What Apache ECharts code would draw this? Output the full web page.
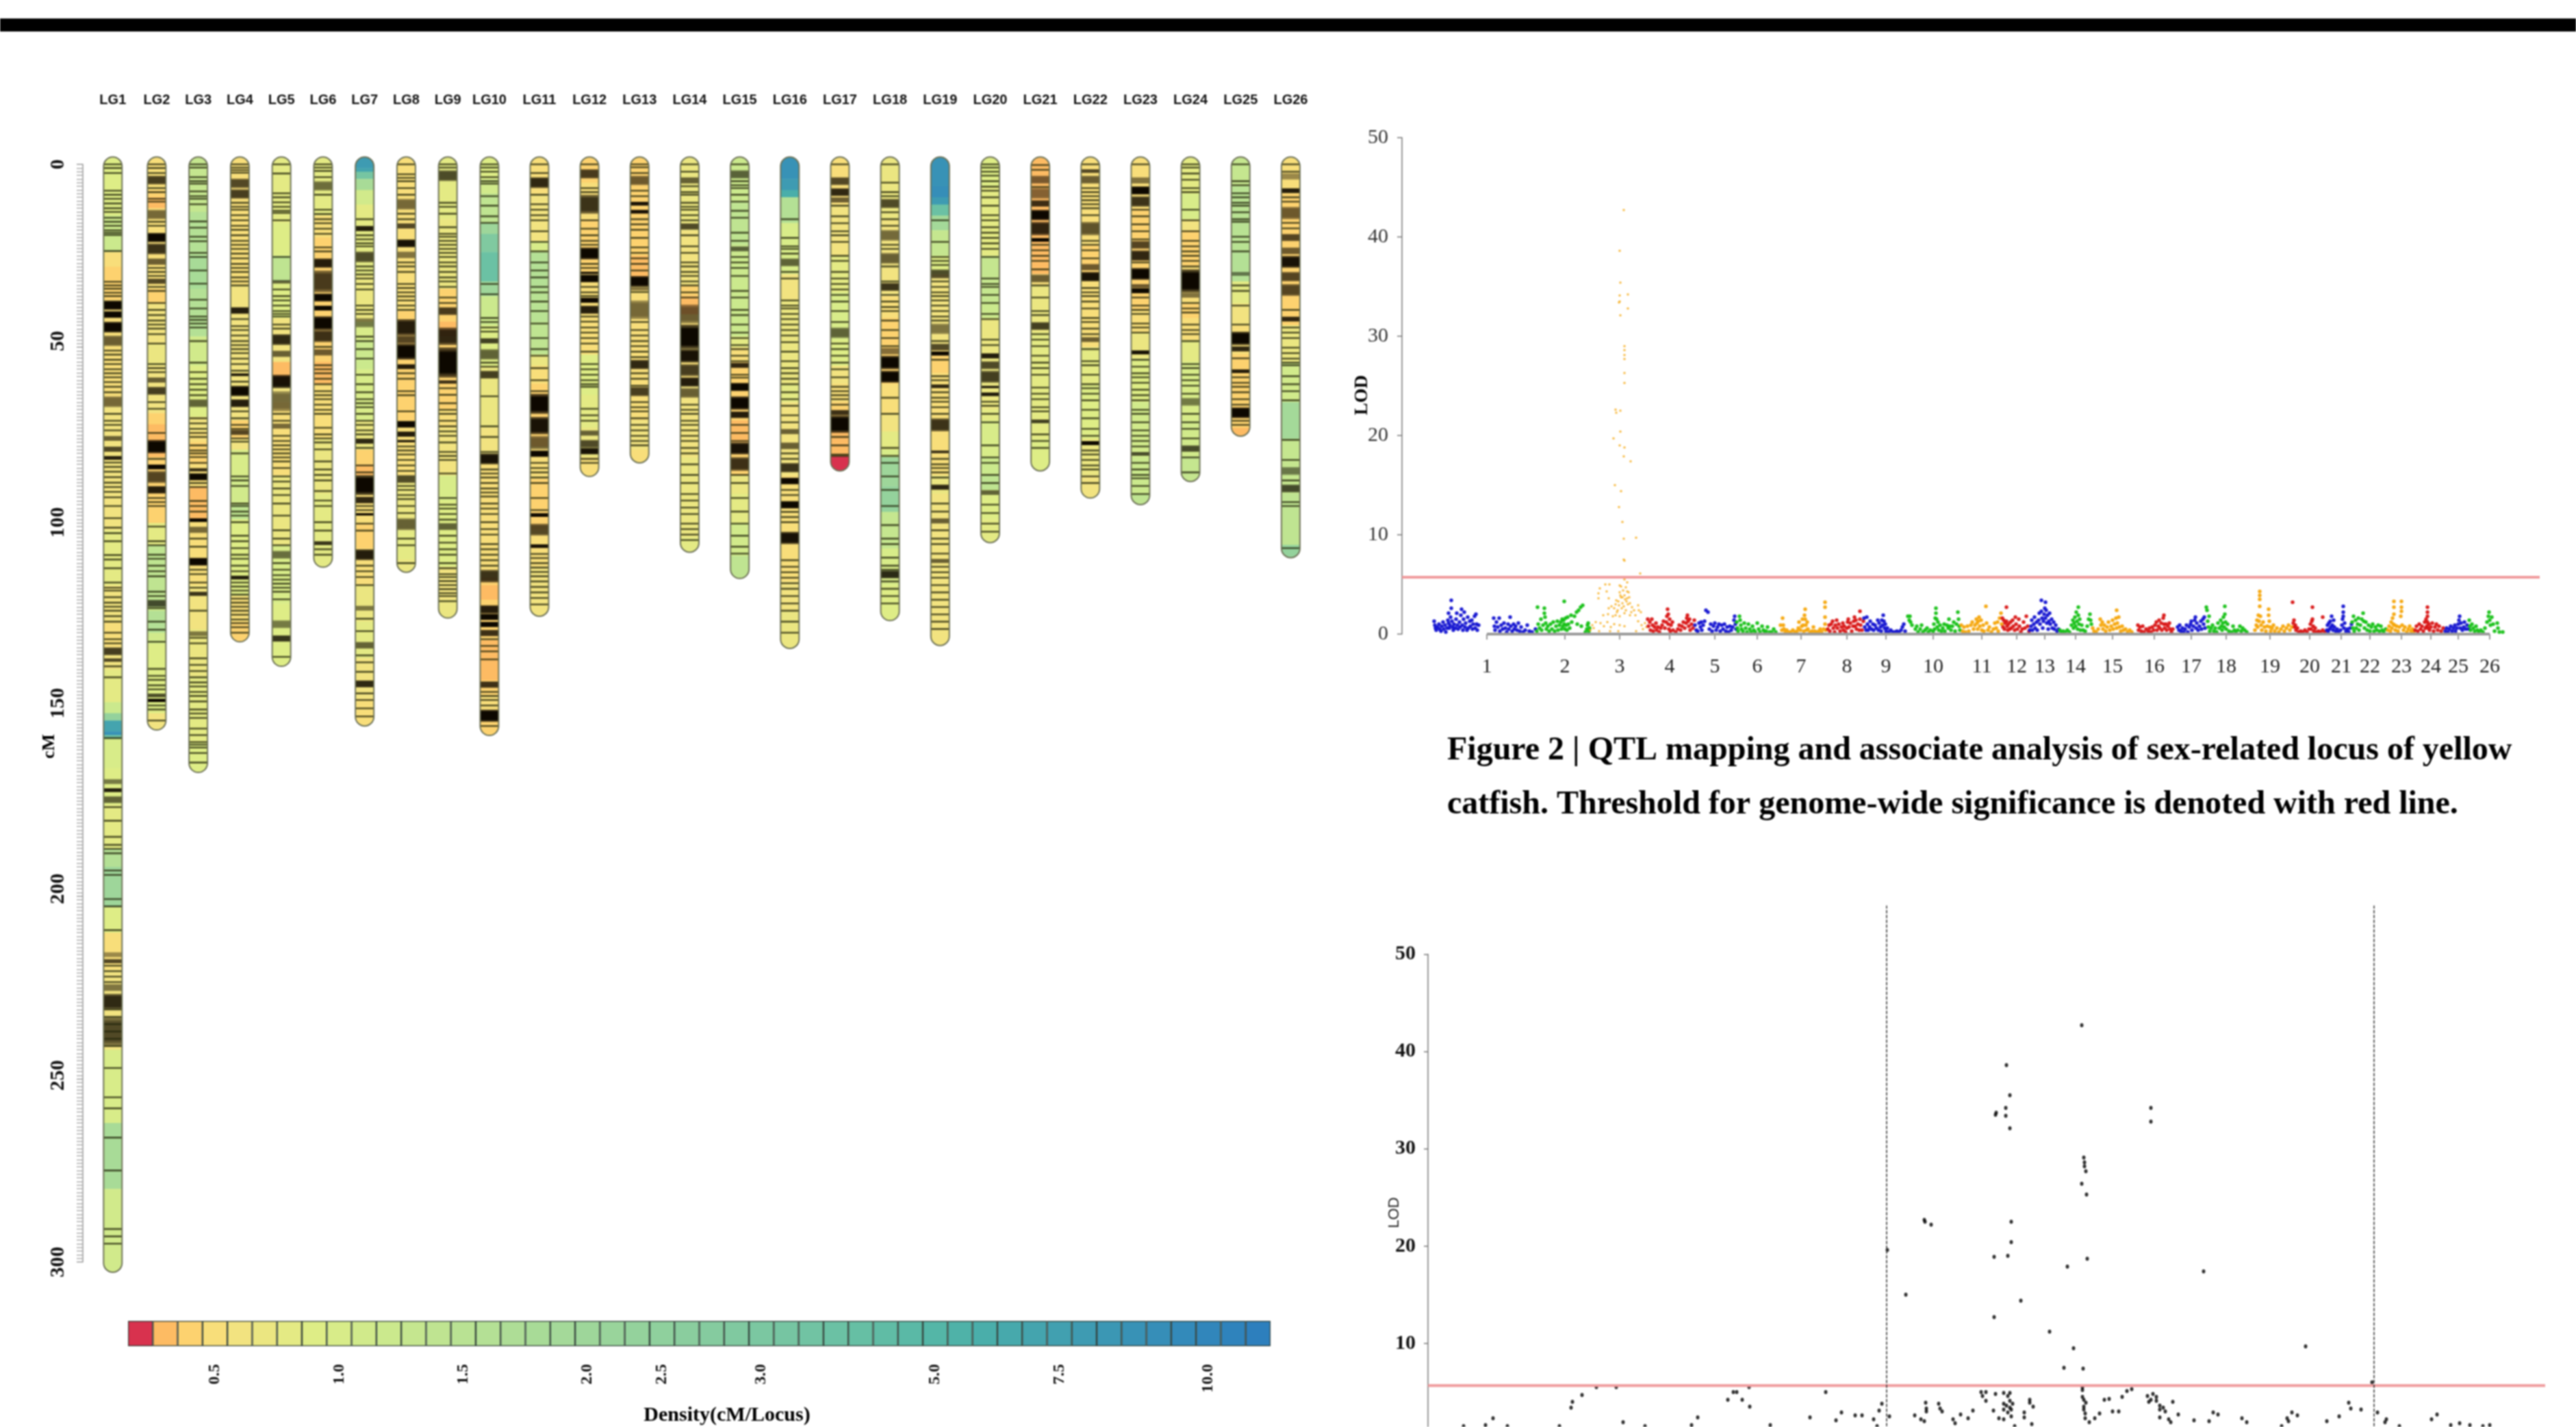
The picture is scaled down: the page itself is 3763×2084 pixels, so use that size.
<!DOCTYPE html>
<html><head><meta charset="utf-8">
<script src="https://cdn.jsdelivr.net/npm/echarts@6/dist/echarts.min.js"></script>
<style>html,body{margin:0;padding:0;background:#fff}#c{width:3763px;height:2084px;filter:blur(.8px)}</style></head>
<body><div id="c"></div>
<script>
const lgNames=['LG1','LG2','LG3','LG4','LG5','LG6','LG7','LG8','LG9','LG10','LG11','LG12','LG13','LG14','LG15','LG16','LG17','LG18','LG19','LG20','LG21','LG22','LG23','LG24','LG25','LG26'];
const lgLengths=[302.8,154.6,166.2,130.5,137.2,110.1,153.5,111.5,124,156.1,123.5,85.3,81.6,106,113.2,132.3,83.8,124.7,131.5,103.4,83.8,91.2,93,86.7,74.3,107.5];
const palette=['#d8324e','#fdbb63','#fdd26f','#f8de7a','#f2e380','#ebe681','#e4ea84','#deed86','#d8ec89','#d1ea8b','#cbe98d','#c5e68f','#bfe491','#b9e293','#b4e095','#aedd96','#a8db97','#a4d999','#9ed69a','#99d49b','#94d29c','#8fd09d','#8acd9e','#85cb9f','#80c9a0','#7bc7a1','#76c5a2','#71c3a3','#6bc1a4','#66bfa4','#60bca5','#5ab9a6','#54b6a7','#4fb2a8','#4aaeaa','#47a9ac','#44a4ae','#41a0b0','#3e9bb2','#3b97b4','#3892b6','#368eb8','#338aba','#3186bb','#2f83bc','#2d7fbd'];
const densityLabels=['','','','0.5','','','','','1.0','','','','','1.5','','','','','2.0','','','2.5','','','','3.0','','','','','','','5.0','','','','','7.5','','','','','','10.0','',''];
const rulerLabelAt=[0,48.3,97.9,147.3,198,249,300];

const bg1=[[-3,7],[14,10],[24,3],[28,2],[37,3],[66,4],[100,6],[115,4],[125,3],[132,4],[138,6],[147,10],[150,20],[152,36],[155,40],[156,27],[157,8],[165,7],[175,6],[187,14],[192,18],[203,7],[210,3],[220,4],[242,8],[262,16],[280,9]];
const bg2=[[-3,3],[7,2],[9,1],[12,3],[34,2],[38,4],[49,5],[55,4],[68,2],[71,1],[80,2],[95,2],[98,6],[104,12],[121,10],[122,14],[128,9],[131,7],[150,4]];
const bg3=[[-3,11],[13,14],[25,16],[34,14],[47,9],[55,7],[69,4],[73,3],[76,2],[82,3],[88,1],[97,3],[115,4],[127,5],[140,6],[158,7]];
const bg4=[[-3,3],[33,4],[70,2],[75,4],[78,8],[85,9],[93,12],[97,7],[118,3],[125,2]];
const bg5=[[-3,6],[16,7],[25,12],[32,7],[42,4],[54,1],[60,4],[65,3],[85,5],[104,8],[120,7]];
const bg6=[[-3,6],[14,3],[20,2],[54,1],[60,3],[75,5],[90,6]];
const bg7=[[-3,38],[1,36],[2,26],[4,16],[7,9],[11,6],[30,5],[43,8],[48,10],[56,8],[70,5],[78,2],[82,1],[85,3],[98,2],[105,3],[115,5],[125,6],[135,4],[146,3]];
const bg8=[[-3,3],[40,2],[70,3],[85,5],[100,6],[108,5]];
const bg9=[[-3,6],[15,5],[34,2],[43,1],[47,2],[67,3],[72,4],[85,8],[92,7],[110,4],[119,5]];
const bg10=[[-3,7],[4,9],[8,12],[16,18],[19,24],[24,28],[32,18],[36,10],[44,7],[55,5],[72,4],[80,3],[100,3],[113,2],[115,1],[119,2],[130,1],[141,2],[145,3],[152,2]];
const bg11=[[-3,3],[8,4],[21,8],[24,14],[34,13],[43,12],[52,5],[55,3],[60,2],[77,3],[86,2],[100,3],[110,4]];
const bg12=[[-3,2],[5,3],[15,2],[30,3],[52,7],[63,6],[72,5],[80,3]];
const bg13=[[-3,2],[25,1],[33,3],[70,4],[78,3]];
const bg14=[[-3,5],[18,4],[33,2],[36,1],[41,3],[60,4],[80,5],[102,6]];
const bg15=[[-3,10],[10,12],[22,10],[47,6],[50,3],[54,2],[70,1],[76,2],[85,5],[90,6],[98,9],[107,12]];
const bg16=[[-3,40],[4,38],[7,34],[9,14],[16,8],[30,4],[37,5],[60,6],[65,4],[85,3],[114,4],[122,5]];
const bg17=[[-3,3],[11,4],[25,6],[35,8],[48,7],[55,4],[60,3],[65,2],[73,1],[79.8,0]];
const bg18=[[-3,5],[15,4],[36,3],[42,2],[60,3],[68,4],[73,6],[78,8],[80,18],[88,20],[95,11],[105,8],[115,7]];
const bg19=[[-3,40],[6,41],[9,38],[11,28],[14,17],[18,11],[25,7],[30,4],[50,3],[52,2],[57,3],[85,5],[90,4]];
const bg20=[[-3,7],[6,6],[25,11],[38,10],[42,5],[67,6],[70,8],[80,10],[85,12],[89,7],[97,6]];
const bg21=[[-3,1],[30,3],[33,5],[46,6],[75,7]];
const bg22=[[-3,3],[22,2],[30,3],[50,6],[60,7],[75,5],[85,4]];
const bg23=[[-3,3],[12,2],[40,3],[46,5],[53,7],[65,9],[80,10],[90,12]];
const bg24=[[-3,6],[8,8],[15,4],[18,2],[28,3],[38,2],[42,3],[48,6],[54,8],[70,9],[80,11]];
const bg25=[[-3,11],[6,13],[24,14],[32,6],[38,4],[44,3],[52,2],[72,1]];
const bg26=[[-3,3],[8,2],[44,5],[54,9],[65,17],[75,11],[90,12],[104,20]];

const lines1=[0,1,2.4,7.2,8.3,9.4,10.7,12,13,14.6,15.7,16.8,18,18.7,19.3,23.7,32.1,33.1,34,35.1,36,50.9,52,53.4,54.6,56,57.1,58.2,59.5,60.8,62.3,68.2,70.1,71.2,72.7,81.5,82.7,84,85.5,87,88.2,89.5,91,93.4,96.7,99.3,100.8,103,106.8,108,110.4,114.3,115.7,116.5,118.3,119.8,120.9,122,123.5,125,128,129.8,130.9,137.2,140.2,156.8,175.7,179.4,183.8,186,187.1,188.3,193,194.2,200.8,202.8,209.3,219,220.5,222,223.5,231,233,235,237,239,241,247,255,258,266,275,291,293,295];
const dark1=[[37.2,39.8,1],[40.1,42,1],[43,46,1],[46.8,49.7,.6],[63.4,66.4,.55],[74.2,75.6,.6],[77.1,78.6,.7],[79.7,80.8,.9],[132,134.2,.75],[135,136,.7],[168,169.4,.5],[170.5,171.6,.9],[172.7,174.6,.6],[215.3,216.7,.4],[217.2,218.4,.7],[224,226,.5],[226.7,231,.85],[233,241,.7]];
const lines2=[0,1,2.4,6.5,7.6,9.4,10.2,15.7,16.8,28.3,29.4,30.5,33.5,34.6,37.9,39.8,41.2,42.7,43.8,44.9,46.4,49,54.6,55.7,56.8,65,66.8,73.4,80.5,91.2,92.3,93.4,99,103,104.1,106.7,107.8,109.7,111.2,112.6,116.8,118,121.3,125,127.2,130.5,137.9,139.8,140.9,142.4,143.5,147.9,149,152];
const dark2=[[3.1,5.5,.75],[12.4,15,.55],[18.7,21.3,1],[21.6,24.6,.8],[25.7,27.5,.6],[31.2,32.7,.7],[58.2,59.7,.6],[60.8,63,.75],[75.3,79,1],[82,83.4,1],[83.8,87.1,.7],[87.9,90,.9],[119,121,.7],[144.6,145.7,.7],[146,147,1]];
const lines3=[0,.9,3.5,4.6,5.3,7.4,8.7,9.4,10.9,15.6,17.3,19.8,21,24.2,25.3,29,32.6,37,39.4,41.6,42.5,43.5,44.6,48.3,54.2,56.8,58.6,60.1,61.6,63.1,69.4,70.8,72.3,73.4,74.5,76.8,78.2,79,80,81.6,87.1,88.2,92,93.4,94.9,102.3,104.5,110.8,112,114.3,115.7,122,129.4,130.9,135,136.8,138.5,140.2,141.6,142.7,144.2,145.3,146.8,149,150.1,151.3,154.2,156,157.9,158.6,159.4,160.9,163.5];
const dark3=[[64.2,66.4,.6],[83,84,.8],[84.4,86.4,1],[96.7,97.8,1],[99,100.8,.55],[107.5,109.7,1],[116.8,118,.8],[127.6,129,.5]];
const lines4=[0,.9,1.6,2.3,10.5,11.6,12.4,13.9,15.3,16.8,17.9,19.4,20.9,22,23.1,24.4,25.7,27.2,28.3,29.4,30.9,32,33.1,42.3,44.2,45.3,46.8,48.3,49.4,50.5,51.6,53.1,54.6,56.4,59.4,67.5,69.4,71.2,72.3,74.9,75.8,79,85.3,86.4,87.9,92.7,93.4,94.9,96,97.8,101.5,103,104.9,106.7,107.8,109.7,111.2,114.3,115.4,116.5,117.6,118.7,119.8,120.9,122,123.1,124.4,125.4,126.5,128];
const dark4=[[3.9,6.5,.7],[6.8,9.4,.75],[39,40.9,.9],[57.1,57.9,.9],[60.5,63.4,1],[64.2,66.4,.9],[72.5,74,.7],[112.4,113.5,.9]];
const lines5=[0,2.5,7.9,9,10.4,11.6,12.7,13.3,15.3,25.3,34.2,36,37.2,38.6,40.1,40.9,41.6,43.8,44.9,68.2,70.1,74.2,75.6,76.8,77.9,79,80.1,81.2,83,85.3,86.7,88.6,90.4,92.7,96,100,102.3,104.1,109,110.8,112.3,113.5,114.6,115.7,116.8,118.9,134.6];
const dark5=[[31.6,32.6,.6],[46.4,49.4,.85],[50.9,52.7,.6],[57.5,61.2,.95],[62,67.5,.55],[70.8,72.3,.55],[105.6,107.8,.55],[124.6,126.8,.5],[128.7,130.5,.8]];
const lines6=[0,.9,1.8,3.5,8.3,12.4,13.6,15,16.1,17.6,19,22.7,23.8,49.9,54.9,56,57.1,58.6,60.1,62,63.1,64.2,65.7,67.1,68.2,72,73.8,74.9,76,77.9,81.2,83.4,84.9,86.4,89.3,91.9,93.4,97.8,100.1,105.2,106.7];
const dark6=[[4.6,7.2,.55],[25.7,28.3,.9],[29,35,.75],[35.3,37.5,1],[38.6,40,1],[41.5,45.3,1],[45.3,48.6,.8],[50.5,52.3,.6],[103,104.1,.8]];
const lines7=[15,19.4,20.5,21.6,22.4,27.9,29,30.1,31.2,32.7,34.2,38.6,39.8,40.9,47.1,48.3,50.5,53.1,57.5,60.1,62.3,64.2,65.3,66.4,68.2,70.1,71.2,72.7,73.8,77.5,82.3,84.2,93.4,94.5,98.2,100.1,109.7,111.2,112.8,115,124.2,127.6,134.2,136.1,138.7,144.6,146.4,148.7,150.9];
const dark7=[[16.8,18.3,.9],[23.8,26.8,.7],[42,44.6,.5],[74.9,76.4,.85],[84.9,90.4,1],[90.8,92.7,.85],[95.3,96,1],[105.2,108.2,.9],[120.6,122,.5],[130.5,132.4,.6],[141,143,.85]];
const lines8=[0,2.7,3.7,4.6,6.5,8.3,13.5,15,26.8,27.9,29.4,32.7,33.8,35,36.1,37.2,38.6,39.8,57.1,58.6,62,63.1,67.5,77.1,78.2,79.3,80.8,82.3,83.8,87.9,89,90.4,91.5,93.4,95.3,102.3,104.1,109];
const dark8=[[9.4,12.4,.55],[16.1,17.6,.7],[20.5,22.7,.95],[23.8,25.7,.5],[42.3,46.8,.9],[46.8,49,.7],[49,53.4,1],[54.6,56,.9],[70.1,72,1],[73,74.5,.9],[75.3,76,.9],[84.9,87.1,.7],[96.7,100,.6]];
const lines9=[0,.9,10.5,11.6,13.5,17.2,19,19.8,20.9,22,23.1,24.2,25.3,26.8,27.9,29.4,30.9,32,33.5,36.4,37.9,61.2,63,65.3,67.1,68.2,70.1,71.6,73,74.2,76,78.6,79.7,80.8,84.5,91.2,93,94.1,95.6,97.1,101.5,103.4,105.2,106.7,109,110.4,112,112.8,113.9,115,116.1,117.2,118,119.4];
const dark9=[[1.6,4.6,.7],[39,41.2,.75],[44.6,49.4,.85],[50,58.3,1],[59,60,.8],[98,100,.6]];
const lines10=[0,.9,2,3.5,4.6,5.3,8.7,11.3,14.2,16,32.7,35.5,42,43.1,44.6,45.7,54.2,55.3,63.4,71.6,74.5,78.6,83.4,84.5,85.6,87.1,88.6,89.7,90.8,92.7,94.1,95.6,97.8,99.7,101.2,103.8,105.2,106.7,108.2,109.7,129.8,131.6,133.1,135.3,144.2,145.3,146.4,147.9,153.5];
const dark10=[[47.5,49,.75],[50.5,53.4,.6],[56.4,58.6,.75],[79,82,.95],[110.8,114.3,.8],[120.5,122.8,.9],[122.8,124.6,1],[125,126.5,1],[127.2,129,.8],[141.3,143.1,.8],[149,152.4,1]];
const lines11=[0,2.4,8.3,10.9,12.4,13.9,15.3,18.3,21.2,23.8,26.8,29,30.9,33.5,35,37.5,40.1,43.5,47.5,50.5,52.3,55.7,59,62,81.6,83,84.2,85.6,87.1,91.2,94.5,106.5,107.6,109,110.2,111.4,112.6,114,115.5,117,118.5,120.3];
const dark11=[[3.5,6.5,.85],[62.7,68.2,1],[69,73.8,.95],[74.2,77.9,.6],[78.2,80,1],[95.3,96.4,1],[98.2,101.5,.7],[103.8,104.9,.95]];
const lines12=[0,6.5,7.6,15.3,17.6,19.4,20.9,22,27.2,28.3,33.5,35,36,41.6,43,44.6,46,47.5,49,51.2,54.6,56,57.5,59,60.1,60.8,66.8,68.6,70.1,80.5,81.6];
const dark12=[[1.3,3.9,.75],[8.3,13.5,.8],[22.7,26,1],[29.3,30,.9],[30.1,32.3,1],[36.4,37.9,1],[38.6,40.9,.9],[72.7,74.2,.6],[75.3,77.5,.7],[77.5,79.3,.95]];
const lines13=[0,.8,2.4,7.2,8.7,15,16.4,17.9,20.1,22.7,24.2,25.7,27.2,29,34.9,43.1,45.3,46.8,48.3,49.7,51.2,52.7,57.1,58.6,60.5,65,66.4,67.5,69.4,71.2,72.7,74.2,75.6,76.8];
const dark13=[[3.1,5.7,.6],[10.2,11.3,.95],[12.4,13.5,.95],[30.5,33.5,1],[33.5,34.5,.5],[37.2,42.3,.55],[53.4,56,.85],[60.8,63.4,.75]];
const lines14=[0,2,6,7.6,8.3,10.5,11.6,12.4,13.9,15.3,19.4,22.4,24.2,26.8,27.9,29.4,30.5,32,33.1,35,36.4,65.7,67.1,68.2,70.1,71.2,72.7,74.2,75.6,77.5,79,82,84.9,87.1,90.1,91.9,93.8,95.6,98.2,99.7,101.2,102.7];
const dark14=[[3.5,5.3,.6],[16.1,17.9,.7],[38.3,43.5,.6],[43.8,50.5,1],[50.5,54.2,.95],[54.6,57.9,.75],[58.2,60.8,.9],[61.1,63.8,.6]];
const lines15=[0,4.6,5.7,6.5,8.3,10.2,12.7,14.6,18.7,20.9,25.3,26.8,28.3,30.5,34.6,36.4,39.8,41.2,43.8,46,47.5,49.4,50.5,52.3,53.8,57.5,58.3,71.2,73.4,75.6,84.9,87.1,91.2,94.9,98.2,101.5,104.5,106.4];
const dark15=[[1.6,3.9,.6],[22.4,23.8,.6],[54.2,55.7,.85],[59.7,62,1],[63.4,67.1,1],[67.5,69.4,.9],[76,79.3,.95],[80,83.8,.8]];
const lines16=[15,20.1,22.4,23.1,24.4,29.4,31.2,37.2,38.6,39.4,40.9,42.3,43.8,45.3,46.8,48.6,51.2,53.8,55.7,57.1,58.6,60.1,62.3,64.2,66,68.6,70.5,79,80.5,89,90.4,95,96.4,97.8,108.2,110,111.5,113,114.5,116,118,120,122,125,128];
const dark16=[[25.7,27.9,.6],[72.3,73.8,.6],[76,77.9,.6],[81.6,84.2,.8],[85.6,87.5,1],[92,94.1,1],[100.4,103.8,.95]];
const lines17=[0,11.3,14.2,16.1,18.3,19.4,21.2,25,26.4,29.4,31.2,32.7,34.2,35.7,37.5,40.1,43.1,49,50.5,52.3,54.2,56,58.2,60.8,62,63.1,64.2,65.7,74.5,76.8,79.3,79.7];
const dark17=[[3.5,5.7,.7],[6.5,8.7,.85],[9,10.5,.6],[44.6,47.5,.6],[67.1,68.6,.8],[68.6,73.4,1]];
const lines18=[0,5,7.6,8.7,13.1,15,16.8,22,23.1,27.9,32,35.7,37.5,39,40.1,42.7,45.3,47.5,49.7,63.8,68.2,77.5,79.7,81.6,85.3,89,93.4,98.6,102.3,103.8,107.5,109.7,110.8,114,116,118,120];
const dark18=[[9.4,12,.7],[17.9,20.9,.55],[24.2,27.2,.6],[32.4,34.6,.8],[50.1,52,.5],[52.3,56,1],[56.4,59.7,1],[111,113.2,.85]];
const lines19=[15.3,21.2,25.3,26.4,27.5,32,33.5,35,36,37.2,38.6,40.1,41.6,42.7,48.3,53.4,57.9,59,62.3,63.8,64.9,66.4,68.2,80.5,82,83,84.2,85.6,92.7,94.9,100,102.3,103.8,106.4,110,111.5,113,115,117,119,121,123,125,127];
const dark19=[[28.7,31.2,.7],[43.5,46.4,.5],[49,50.9,.7],[51.1,52.3,1],[60.1,61.2,.85],[69.4,73,.8],[78.2,79,.8],[87.5,89,.85],[96.7,98.2,.6],[107.8,109,.6]];
const lines20=[0,.9,2,3.1,4.6,6.1,7.2,9,11.3,13.9,15.3,17.2,18.7,20.1,21.6,23.1,25.3,31.2,32.7,33.5,35.7,37.9,40.9,42.3,47.9,49.4,64.9,66,68.2,70.5,76.8,80.1,81.6,84.9,87.1,93,95.3,98.2,100.4];
const dark20=[[51.6,53.1,.9],[53.8,56,.7],[56.4,59.7,.75],[60.5,61.2,.9],[62.3,63.4,.9],[89,90.4,.6]];
const lines21=[.2,1.5,6.2,22,23.5,25,26.4,28.7,33.1,36.4,40.1,41.2,46.4,47.9,49.7,52.3,54.2,55.7,57.5,61,62.7,64.2,66.4,67.5,73.8,75.6,77.5];
const dark21=[[3.1,5.3,.55],[6.5,9.4,.5],[9.8,11.6,.8],[12.4,15.3,1],[15.7,19.4,.85],[20.1,21.2,1],[30.1,32.3,.6],[43.1,45.3,.75],[69.7,70.8,.75]];
const lines22=[0,6.5,7.6,8.7,9.8,10.9,12,13.9,20.9,22,23.5,25.7,33.8,35,36,37.5,39.4,42,43.1,44.9,46.4,50.5,53.8,54.9,57.5,60.1,61.2,62.7,64.5,67.1,69.4,72.3,74.2,78.2,79.3,80.8,82.3,83.4,85.3,87.1];
const dark22=[[1.3,2.4,.7],[3.1,5.3,.6],[15.7,19.4,.65],[27.2,29,.6],[29.4,32,.95],[47.2,48.6,.6],[75.6,76.8,1]];
const lines23=[0,12.4,14.2,16.4,18.3,20.5,26.8,36.4,38.6,39.8,40.9,43.5,44.6,46,53.4,55.3,57.1,58.2,59.7,61.6,63.1,64.5,67.1,68.2,70.5,72.7,74.2,75.6,77.1,81.6,83.4,84.9,85.8,87.9,90.1];
const dark23=[[3.5,5.3,.5],[6,8.3,1],[8.7,11.6,.8],[20.9,23.1,.7],[23.5,26.4,.85],[28.3,31.6,1],[32.7,33.8,.6],[33.8,35.3,1],[50.8,52,.95],[78.6,79.7,.7]];
const lines24=[0,.9,2.5,4.2,6.5,7.6,12.4,15.3,18.3,20.9,22.4,23.8,25,26.4,27.9,37.9,39.4,40.5,43.8,45.3,46.4,48.3,54.6,55.7,57.5,59,60.5,62.7,68.2,70.5,72.3,74.9,80.1,84.2];
const dark24=[[28.7,35,1],[35,36.5,.5],[63.8,66,.5],[76.8,78.6,.7]];
const lines25=[0,4.6,5.7,7.9,9,10.5,11.3,13.1,15,15.7,19.8,21.2,23.8,33.1,34.6,38.6,43.8,53,58.2,59.7,60.8,62.3,64.2,65.7,70.1,71.2];
const dark25=[[29.4,30.5,.5],[45.7,49.4,1],[49.7,51.2,.85],[56,57.1,.9],[66.4,69.4,1]];
const lines26=[0,2,9,10.2,16,17.5,39.8,44.6,46,47.5,50.1,51.6,53.1,54.2,54.9,57.9,60.1,62,64.5,75.3,80.8,86.4,92.3,93.4,104.9];
const dark26=[[2.4,4.2,.4],[6.5,7.9,.9],[11.6,15,.6],[19,21,.7],[22.7,24.6,.6],[25,28.3,.95],[29.4,32,.7],[32.7,36,.7],[41.6,43,.85],[82.7,84.9,.5],[87.5,89.7,.7]];

const allBg=[bg1,bg2,bg3,bg4,bg5,bg6,bg7,bg8,bg9,bg10,bg11,bg12,bg13,bg14,bg15,bg16,bg17,bg18,bg19,bg20,bg21,bg22,bg23,bg24,bg25,bg26];
const allLines=[lines1,lines2,lines3,lines4,lines5,lines6,lines7,lines8,lines9,lines10,lines11,lines12,lines13,lines14,lines15,lines16,lines17,lines18,lines19,lines20,lines21,lines22,lines23,lines24,lines25,lines26];
const allDark=[dark1,dark2,dark3,dark4,dark5,dark6,dark7,dark8,dark9,dark10,dark11,dark12,dark13,dark14,dark15,dark16,dark17,dark18,dark19,dark20,dark21,dark22,dark23,dark24,dark25,dark26];

const chromNames=['1','2','3','4','5','6','7','8','9','10','11','12','13','14','15','16','17','18','19','20','21','22','23','24','25','26'];
const chromTicks=[124,238,318,391,457,519,583,650,707,776,847,898,939,984,1038,1099,1153,1204,1268,1326,1372,1414,1460,1503,1543,1589];
const threshold1=5.72, threshold2=5.67;
const chromColors=['#1212d0','#14c014','#f5a50a','#d81414'];

const chr1=[[47,1.3],[48,.9],[49,.6],[50,.4],[52,.7],[54,1],[55,.5],[57,.3],[58,.8],[60,1.2],[61,.5],[63,.9],[64,.2],[66,.6],[67,1.4],[68,2.1],[68,1.1],[69,.6],[70,.9],[71,1.7],[72,2.6],[72,3.4],[73,1.3],[74,.7],[75,.4],[76,1],[78,.6],[79,1.5],[80,2.1],[81,.9],[82,.5],[84,1.2],[85,.7],[86,1.9],[87,2.5],[88,.9],[89,.4],[90,1.5],[91,2.2],[92,.7],[93,1.1],[95,.4],[96,1.7],[97,.6],[99,1.3],[100,.8],[102,1.4],[103,.5],[104,1],[106,1.8],[107,.6],[108,2],[109,1],[110,.4],[112,.9],[134,1.6],[135,.8],[136,.4],[138,1.2],[140,.7],[142,1.6],[143,.3],[145,.9],[147,.5],[149,1.1],[151,.6],[153,.2],[155,1],[156,.5],[158,1.7],[159,.8],[161,.3],[163,1],[164,.5],[166,.8],[168,.4],[170,1.1],[172,.3],[174,.7],[177,.2],[180,.4],[183,.9],[186,.3],[190,.2],[195,.5]];
const chr2=[[197,.3],[198,2.7],[199,1],[201,.6],[203,1.5],[204,.4],[206,.9],[208,2.6],[208,2.1],[209,1.7],[210,1.1],[211,.5],[213,.8],[215,.3],[217,1],[219,.5],[221,1.2],[223,.3],[225,.8],[227,1.3],[228,.4],[230,.9],[232,1.2],[233,.5],[234,1.5],[235,.8],[236,1.4],[237,3.3],[237,1],[238,.5],[239,1.6],[240,.9],[241,.4],[242,1.7],[243,1],[245,.6],[247,1.9],[248,1.2],[252,1.8],[255,2.2],[258,2.4],[261,2.7],[264,2.9],[256,1],[262,.8],[268,.2],[270,.5],[271,.9],[272,1.1],[273,.3],[274,.6]];
const chr3=[[324,42.7],[318,38.6],[319,35.4],[318,34.1],[330,34.2],[318,33.5],[317,33.4],[330,32.8],[319,32.1],[325,29],[325,28.6],[325,28.1],[325,27.7],[325,26.3],[325,25.3],[312,22.6],[313,22.3],[319,22.5],[319,20.4],[309,19.7],[318,19],[325,18.8],[324,17.9],[334,17.4],[311,15],[320,14.4],[317,12.8],[322,11.3],[324,9.6],[342,9.7],[324,7.5],[325,7.4],[348,6.1],[287,5.7],[298,5.7],[325,5.5],[329,5.2],[297,5],[303,5],[289,4.6],[287,4.1],[299,4.3],[287,3.6],[302,3.6],[318,4.9],[320,4.8],[327,4.7],[329,4.3],[331,4.2],[325,3.9],[332,3.7],[318,4.2],[320,3.7],[316,3.3],[322,3.1],[312,3],[306,2.8],[302,2.6],[310,2.6],[315,2.4],[321,2.6],[328,3.3],[333,3.1],[336,2.7],[339,2.4],[345,2.9],[346,2.4],[349,2.2],[341,1.9],[333,1.9],[325,2.1],[318,1.8],[312,1.9],[308,1.8],[301,2],[294,1.9],[290,1.1],[283,1.2],[278,.9],[275,.4],[280,.6],[295,.8],[300,1.2],[305,.7],[310,1],[318,.9],[325,.8],[345,1.3],[350,.9],[352,.5],[355,1.1],[357,.7],[316,.3],[304,.3],[288,.3],[342,.3],[323,4.4],[326,3.5],[319,3.9],[330,3],[324,2.8],[317,2.9],[314,2.2],[327,2.4],[335,2.2],[313,3.4],[329,3.6],[322,3.7]];
const chr4=[[359,1.5],[360,.8],[362,1.2],[363,.4],[365,1.5],[366,.9],[367,.3],[369,.7],[371,1.1],[372,.4],[374,.7],[376,.2],[378,.6],[380,.9],[382,1.3],[384,.6],[386,1.2],[387,1.8],[388,2.5],[389,2],[389,1],[390,.5],[391,1.5],[392,.3],[393,.9],[395,1.2],[396,.4],[400,.2],[403,.5],[405,.9],[407,.4],[409,.8],[411,1.2],[413,.6],[415,1.1],[416,1.6],[417,1.9],[418,1.3],[419,.8],[420,1.5],[421,.4],[423,1],[425,.6],[427,1.4]];
const chr5=[[428,.9],[430,.4],[432,.3],[434,1.1],[436,.7],[437,1.2],[438,.4],[440,.9],[442,1.3],[444,2.4],[447,2.2],[449,.5],[451,1],[453,.3],[455,.8],[457,1.1],[459,.4],[461,.7],[463,1],[465,.3],[467,.9],[469,.5],[471,1],[473,.3],[475,.7],[477,.2],[479,.8],[481,.4],[483,.7],[485,1.4],[486,1.8],[487,1],[488,.5]];
const chr6=[[489,1.2],[490,.6],[491,.3],[493,1.8],[494,1.4],[495,.9],[496,.5],[498,.3],[500,1.1],[502,.6],[504,.2],[506,1],[508,.5],[510,.2],[512,.8],[514,.4],[516,.2],[519,1.1],[521,.5],[523,.2],[526,.8],[528,.4],[530,.2],[532,.3],[534,.7],[537,.2],[540,.2],[543,.5],[546,.2]];
const chr7=[[553,.9],[555,.4],[556,1.6],[557,.9],[558,.5],[560,.2],[562,.4],[565,.2],[568,.2],[571,.4],[574,.2],[577,.3],[579,.6],[580,1.2],[582,.4],[584,.8],[585,1.5],[586,.9],[587,.3],[588,1.9],[589,2.5],[589,1.5],[590,.9],[591,.4],[592,1.2],[593,.5],[596,.2],[599,.3],[601,.7],[603,.3],[606,.2],[609,.3],[611,.5],[613,.2],[616,.5],[618,3.2],[618,2.7],[618,1.7],[618,1],[619,.4]];
const chr8=[[622,.5],[624,.9],[625,.3],[627,1],[629,1.3],[630,.6],[632,.2],[633,.9],[635,1.4],[636,.6],[638,1],[640,.3],[642,.7],[644,1.1],[645,.4],[646,.8],[648,.2],[650,.6],[651,1.2],[652,1.5],[653,.7],[655,1.1],[657,.3],[659,.8],[660,1.3],[661,1.7],[662,.8],[663,1.4],[664,.5],[666,1],[668,.4],[669,2.3],[669,1.5],[670,.9],[672,.4],[674,1.3]];
const chr9=[[675,1.6],[676,.7],[678,.4],[679,1.7],[680,1],[681,.4],[683,.7],[684,1.3],[686,.5],[688,1],[689,.4],[691,.9],[693,.6],[695,1.4],[696,.4],[697,1.1],[699,.7],[700,.3],[701,1.4],[702,.9],[703,1.9],[704,1.3],[705,.6],[706,1],[707,.3],[709,.6],[711,.2],[714,.4],[717,.2],[720,.2],[723,.3],[726,.2],[729,.4],[731,.7],[733,1],[735,.3]];
const chr10=[[739,1.8],[741,1.4],[742,1.8],[743,1.2],[745,.9],[750,.5],[752,.8],[754,.2],[757,.5],[759,.9],[761,.2],[764,.4],[767,.6],[769,.2],[772,.4],[776,.3],[777,1],[778,.5],[779,1.6],[780,2.6],[780,2.1],[781,1.5],[782,.7],[783,1.2],[784,.4],[786,.9],[788,.3],[790,.6],[792,1],[793,.3],[796,.9],[798,.6],[799,1.5],[800,.8],[802,.4],[804,.8],[806,1.2],[808,.3],[810,1],[812,2.2],[813,1.5],[814,.8],[815,.4]];
const chr11=[[817,.9],[819,.3],[821,.7],[823,.2],[826,.8],[828,.3],[831,.9],[833,1.2],[835,.5],[837,.9],[839,1.5],[840,1.1],[841,.5],[842,1.3],[843,1.7],[844,.8],[846,1.4],[847,.4],[849,.9],[850,.3],[853,2.8],[854,1.1],[856,.4],[858,.7],[861,.2],[864,.5],[866,1.1],[868,.6],[870,1.2],[871,.3],[873,1.6],[875,2.1],[876,1]];
const chr12=[[877,1.6],[878,.7],[879,1.4],[880,.5],[881,1.1],[883,2.7],[883,1.3],[884,.8],[885,.4],[886,1],[888,.5],[889,1.2],[890,.6],[892,1.4],[893,.8],[895,.4],[896,1.7],[897,1],[899,.5],[901,1.5],[902,.8],[904,.2],[906,.5],[908,1.2],[910,.6],[912,1.8],[914,.8],[916,.3]];
const chr13=[[917,.4],[919,.8],[920,1.4],[921,.4],[923,1],[924,1.7],[925,.6],[927,1.2],[928,.4],[930,1.4],[931,2.1],[932,1],[934,3.4],[934,2.3],[935,1.6],[936,.6],[937,1.3],[938,2],[939,2.6],[940,3.2],[940,1.6],[941,2.4],[942,1.1],[943,1.9],[944,.5],[945,1.3],[946,2.1],[947,1],[949,1.5],[950,.6],[952,1.2],[953,.5],[955,.9],[957,.3],[959,.5]];
const chr14=[[961,.4],[963,.2],[966,.3],[969,.2],[972,.4],[975,.2],[978,.9],[980,1.4],[981,.6],[982,1.1],[983,1.7],[984,.8],[985,2.2],[986,1.3],[987,.5],[988,2.7],[988,1.9],[989,1],[990,1.5],[991,.4],[993,.9],[995,.4],[998,.3],[1001,.8],[1003,1.5],[1005,2],[1006,1.4],[1007,1]];
const chr15=[[1009,.6],[1011,.3],[1014,.2],[1017,.5],[1020,1.5],[1021,.9],[1023,1.2],[1024,.5],[1026,.9],[1028,.3],[1030,.7],[1032,1.2],[1034,.4],[1036,.8],[1038,1.4],[1039,.5],[1041,1],[1043,1.6],[1044,2.4],[1044,.6],[1045,1.1],[1047,1.7],[1048,.7],[1050,.3],[1052,.8],[1054,.4],[1057,.5],[1060,.2],[1063,.4],[1066,.2]];
const chr16=[[1075,.9],[1076,.4],[1078,.7],[1080,.3],[1082,.8],[1084,.2],[1087,.5],[1090,.3],[1092,.6],[1094,.2],[1096,.7],[1098,.4],[1100,.9],[1102,1.2],[1103,.4],[1105,.8],[1106,1.4],[1107,.6],[1109,1.1],[1110,.4],[1112,1.6],[1113,1.9],[1113,1],[1114,.6],[1116,1],[1117,.4],[1119,.8],[1121,1.1],[1122,.5],[1124,.2],[1126,.5]];
const chr17=[[1133,.7],[1135,.4],[1136,.9],[1138,.3],[1140,.6],[1142,.2],[1144,.5],[1146,.9],[1148,.2],[1150,.7],[1152,1],[1153,1.3],[1154,.4],[1156,.8],[1158,1.4],[1159,1.7],[1160,.6],[1161,1.1],[1163,.4],[1165,.8],[1167,1.3],[1168,.5],[1170,1.5],[1171,1],[1172,1.7],[1173,.6]];
const chr18=[[1175,2.7],[1176,2.4],[1177,1.3],[1178,.7],[1179,1.8],[1180,.3],[1182,.6],[1184,.9],[1186,.3],[1188,.6],[1190,.2],[1192,1.1],[1194,.6],[1196,1.4],[1197,.8],[1198,.4],[1199,1.1],[1200,1.7],[1201,.7],[1202,2.8],[1202,2],[1203,1.2],[1204,.5],[1206,1],[1208,.3],[1212,.2],[1214,.8],[1216,.4],[1218,.2],[1221,.4],[1224,.8],[1226,.3],[1228,.6],[1231,.4],[1234,.2]];
const chr19=[[1246,.4],[1248,.9],[1249,1.4],[1250,.7],[1251,1.9],[1252,1.3],[1253,4.3],[1253,3.9],[1253,3.5],[1253,2.8],[1254,1.8],[1255,.9],[1256,.4],[1258,1.2],[1260,.7],[1262,.3],[1264,.8],[1266,2.5],[1266,1.9],[1267,1.3],[1268,.7],[1269,.3],[1271,.6],[1273,.9],[1275,.3],[1278,.6],[1281,.2],[1284,.5],[1287,.8],[1289,.3],[1292,.6],[1295,.9],[1297,.4],[1300,.7]];
const chr20=[[1301,3.2],[1302,1.1],[1303,1.4],[1304,.7],[1305,.9],[1306,.4],[1308,.6],[1310,.2],[1313,.3],[1316,.2],[1319,.4],[1322,.2],[1325,.5],[1327,1],[1328,.5],[1329,1.3],[1330,2.7],[1330,1.5],[1331,.8],[1332,.3],[1334,.6],[1336,.2],[1339,.3],[1342,.2],[1345,1.7],[1345,.4],[1348,.2]];
const chr21=[[1351,.4],[1352,.9],[1353,.3],[1354,1.1],[1355,.5],[1356,1.3],[1357,.7],[1358,1.8],[1359,.9],[1360,.4],[1361,1.4],[1362,.7],[1364,.3],[1366,.5],[1368,.2],[1371,.4],[1373,.9],[1374,1.5],[1375,2.8],[1375,2.2],[1375,1.8],[1376,.6],[1377,1.1],[1379,.3],[1381,.5],[1383,.2],[1385,.6],[1387,1]];
const chr22=[[1388,1.2],[1389,.6],[1390,1.8],[1391,.3],[1393,1.4],[1394,.6],[1396,1],[1397,1.6],[1398,.4],[1400,.9],[1402,1.5],[1404,2.1],[1405,1.3],[1406,.6],[1408,1.2],[1410,.4],[1412,.9],[1414,.3],[1416,.7],[1418,1],[1420,.3],[1422,.7],[1424,.4],[1426,.9],[1428,.3],[1430,.8],[1432,.4],[1434,.2],[1437,.5]];
const chr23=[[1440,.4],[1442,.8],[1444,.3],[1445,1.2],[1446,.6],[1447,1.6],[1448,1],[1449,3.3],[1449,2.7],[1449,2],[1450,.9],[1451,.4],[1453,.8],[1455,.3],[1457,.7],[1459,1.8],[1460,3.3],[1460,2.7],[1460,2.3],[1461,.9],[1463,.4],[1465,.7],[1468,.2],[1470,.5],[1472,.8],[1474,.3],[1476,.5],[1478,.2]];
const chr24=[[1480,.4],[1482,.8],[1484,.3],[1486,1],[1488,.5],[1490,.8],[1492,.3],[1494,1.2],[1495,.6],[1496,1.5],[1497,.8],[1498,2.7],[1498,2.2],[1498,1.8],[1498,1.2],[1499,.6],[1500,1],[1501,.4],[1503,.7],[1505,1.1],[1507,.3],[1509,.7],[1511,1],[1513,.4],[1515,.8],[1518,.3],[1521,.6]];
const chr25=[[1524,.3],[1526,.6],[1528,.2],[1530,.5],[1532,.8],[1534,.3],[1536,.6],[1538,.9],[1539,.3],[1541,.6],[1543,1],[1544,1.4],[1545,1.8],[1546,.6],[1547,1.1],[1549,.4],[1551,.7],[1552,1.2],[1554,.5],[1556,.9],[1558,.5]];
const chr26=[[1559,1.4],[1560,.8],[1561,.4],[1563,1],[1565,.6],[1567,.3],[1569,.8],[1571,.4],[1573,.2],[1576,.4],[1579,.2],[1582,.6],[1585,1.2],[1587,1.8],[1588,2.2],[1589,1.4],[1590,.9],[1592,1.7],[1594,1],[1596,.3],[1600,1.1],[1601,.6],[1603,.2],[1608,.2]];
const allChr=[chr1,chr2,chr3,chr4,chr5,chr6,chr7,chr8,chr9,chr10,chr11,chr12,chr13,chr14,chr15,chr16,chr17,chr18,chr19,chr20,chr21,chr22,chr23,chr24,chr25,chr26];

const zoomPoints=[[955,42.7],[845,38.6],[850,35.5],[844,34.2],[844,33.4],[829,33.5],[830,33.7],[850,32.1],[1056,34.2],[1056,32.8],[958,29.1],[959,28.6],[959,28.2],[961,27.7],[955,26.4],[962,25.3],[725,22.7],[726,22.5],[735,22.2],[852,22.5],[852,20.4],[671,19.6],[827,18.9],[847,19],[963,18.7],[934,17.9],[1133,17.4],[698,15],[866,14.4],[827,12.7],[908,11.2],[943,9.5],[1282,9.7],[929,7.5],[957,7.4],[1379,6],
[246,5.5],[275,5.5],[469,5.5],[225,4.7],[211,4],[209,3.4],[446,5],[451,5],[438,4.2],[459,4.2],[470,3.5],[581,5],[95,2.3],[84,1.6],[52,1.5],[116,1.5],[192,1.5],[285,1.9],[317,1.5],[394,2.4],[385,1.6],[500,1.6],[558,2.4],[596,2.1],[604,2.9],[624,2.6],[634,2.6],[651,2.2],[659,3.1],[663,3.8],[674,2.5],[656,1.5],
[711,2.6],[720,2.2],[725,2],[727,3.9],[728,3.3],[728,3],[746,3.8],[748,3.3],[751,3],[767,2.2],[770,1.8],[778,2.7],[789,2.3],[796,3.1],[808,5],[815,5],[829,4.8],[810,4.6],[815,4.1],[826,3.1],[834,2.3],[841,4.9],[850,4.9],[847,4.6],[850,4.1],[841,3.8],[845,3.6],[850,3.4],[841,3.2],[847,2.9],[852,3.2],[854,3.8],[841,2.2],[852,2.5],[857,1.5],[871,2.9],[871,2.4],[879,4.2],[879,3.9],[884,3.5],[882,1.7],
[956,5.5],[956,5.2],[956,4.5],[958,4.2],[961,3.9],[958,3.5],[958,3.2],[960,2.8],[960,2.3],[966,1.9],[974,2.3],[981,2.8],[988,4.2],[995,4.3],[1000,3],[1009,3],[1014,4.5],[1021,5.1],[1028,5.3],[1051,4.6],[1059,4.8],[1064,4.5],[1056,4.2],[1064,4.1],[1053,4],[1088,4],[1069,3.6],[1074,3.4],[1069,3.2],[1077,3],[1096,2.7],[1069,2.4],[1082,2.2],[1085,1.9],[1119,2.1],[1141,2],[1147,2.9],[1154,2.7],[1189,2.3],[1196,1.9],[1247,1.5],[1255,2.3],[1262,2.9],[1270,2.6],[1257,2],[1313,2],[1331,2.5],[1345,3.9],[1348,3.3],[1363,3.2],[1387,2.9],[1400,2.2],[1398,1.9],[1419,1.5],[1466,2.2],[1474,2.7],[1494,1.6],[1507,1.8],[1522,1.6],[1541,1.5],[1551,1.6]];
const zoomBounds=[670,1382];

const SERIF='"Liberation Serif",serif', SANS='"Liberation Sans",sans-serif';

function renderChrom(offset){
  return function(params,api){
    const idx=api.value(0), lg=offset+idx, len=api.value(1);
    const xc=api.coord([idx,0])[0], w=27, x0=xc-w/2;
    const top=api.coord([idx,-2])[1], bot=api.coord([idx,len])[1];
    const kids=[];
    const bg=allBg[lg];
    bg.forEach((s,i)=>{
      const a=api.coord([idx,s[0]])[1];
      const b=api.coord([idx,i+1<bg.length?bg[i+1][0]:len+1])[1];
      kids.push({type:'rect',shape:{x:x0,y:a,width:w,height:b-a+.5},style:{fill:palette[s[1]]}});
    });
    allDark[lg].forEach(d=>{
      const a=api.coord([idx,d[0]])[1], b=api.coord([idx,d[1]])[1];
      kids.push({type:'rect',shape:{x:x0,y:a,width:w,height:b-a},style:{opacity:d[2],fill:{type:'linear',x:0,y:0,x2:0,y2:1,colorStops:[{offset:0,color:'rgba(13,8,0,.55)'},{offset:.18,color:'rgba(13,8,0,1)'},{offset:.82,color:'rgba(13,8,0,1)'},{offset:1,color:'rgba(13,8,0,.55)'}]}}});
    });
    allLines[lg].forEach(v=>{
      const a=api.coord([idx,v])[1];
      kids.push({type:'rect',shape:{x:x0,y:a-1.3,width:w,height:2.6},style:{fill:'#23260c',opacity:.76}});
    });
    return {type:'group',children:[
      {type:'group',children:kids,clipPath:{type:'rect',shape:{x:x0,y:top,width:w,height:bot-top,r:13.5}}},
      {type:'rect',shape:{x:x0,y:top,width:w,height:bot-top,r:13.5},style:{fill:'none',stroke:'#6f7459',lineWidth:2}}
    ]};
  };
}
const lgFirst=lgNames.slice(0,1), lgA=lgNames.slice(1,10), lgB=lgNames.slice(10);
const lgAxis=(names,grid)=>({type:'category',gridIndex:grid,data:names,position:'top',axisLine:{show:false},axisTick:{show:false},axisLabel:{interval:0,margin:84,fontFamily:SANS,fontWeight:'bold',fontSize:20,color:'#111'}});

const series=[
 {type:'custom',xAxisIndex:0,yAxisIndex:0,clip:false,renderItem:renderChrom(0),data:lgFirst.map((n,i)=>[i,lgLengths[i]])},
 {type:'custom',xAxisIndex:1,yAxisIndex:1,clip:false,renderItem:renderChrom(1),data:lgA.map((n,i)=>[i,lgLengths[i+1]])},
 {type:'custom',xAxisIndex:2,yAxisIndex:2,clip:false,renderItem:renderChrom(10),data:lgB.map((n,i)=>[i,lgLengths[i+10]])},
 {type:'bar',xAxisIndex:3,yAxisIndex:3,barWidth:'100%',data:palette.map(c=>({value:1,itemStyle:{color:c,borderColor:'#33413a',borderWidth:1.2}}))},
 {type:'line',xAxisIndex:4,yAxisIndex:4,showSymbol:false,silent:true,lineStyle:{color:'#9a9a9a',width:4},data:[[chromTicks[0],0],[chromTicks[25],0]]},
];
allChr.forEach((pts,i)=>series.push({type:'scatter',xAxisIndex:4,yAxisIndex:4,symbolSize:i===2?3.5:5.5,data:pts,itemStyle:{color:chromColors[i%4],opacity:i===2?.75:.95}}));
series.push({type:'line',xAxisIndex:4,yAxisIndex:4,showSymbol:false,lineStyle:{color:'#f09a9c',width:4},data:[[0,threshold1],[1662,threshold1]]});
series.push({type:'scatter',xAxisIndex:5,yAxisIndex:5,clip:false,symbolSize:[5,6],data:zoomPoints,itemStyle:{color:'#000'}});
series.push({type:'line',xAxisIndex:5,yAxisIndex:5,showSymbol:false,lineStyle:{color:'#f09a9c',width:4},data:[[0,threshold2],[1632,threshold2]]});
zoomBounds.forEach(b=>series.push({type:'line',xAxisIndex:5,yAxisIndex:5,clip:false,showSymbol:false,lineStyle:{color:'#333',width:1.5,type:[5,2]},data:[[b,0],[b,55]]}));

const txt=(x,y,text,font,size,weight,rot,color,align)=>({type:'text',x,y,rotation:rot||0,style:{text,fontFamily:font,fontSize:size,fontWeight:weight,fill:color||'#000',align:align||'center',verticalAlign:'middle'}});

const option={
 animation:false,backgroundColor:'#fff',
 grid:[
  {left:134.4,top:240,width:60.8,height:1603,outerBoundsMode:'none'},
  {left:198.5,top:240,width:546.8,height:1603,outerBoundsMode:'none'},
  {left:751.4,top:240,width:1170.6,height:1603,outerBoundsMode:'none'},
  {left:187,top:1929,width:1669,height:37,outerBoundsMode:'none'},
  {left:2048,top:201,width:1662,height:725,outerBoundsMode:'none'},
  {left:2086,top:1393.5,width:1632,height:710.5,outerBoundsMode:'none'}
 ],
 xAxis:[
  lgAxis(lgFirst,0),lgAxis(lgA,1),lgAxis(lgB,2),
  {type:'category',gridIndex:3,data:densityLabels,axisLine:{show:false},axisTick:{show:false},axisLabel:{interval:0,rotate:90,margin:26,fontFamily:SERIF,fontWeight:'bold',fontSize:24,color:'#111',padding:[12,0,0,0]}},
  {type:'value',gridIndex:4,min:0,max:1662,splitLine:{show:false},axisLine:{show:false},
   axisTick:{show:true,length:8,customValues:chromTicks,lineStyle:{color:'#777',width:1.5}},
   axisLabel:{show:true,customValues:chromTicks,margin:33,fontFamily:SERIF,fontSize:30,color:'#222',formatter:v=>chromNames[chromTicks.indexOf(v)]}},
  {type:'value',gridIndex:5,min:0,max:1632,show:false}
 ],
 yAxis:[
  {type:'value',gridIndex:0,min:0,max:300,interval:50,inverse:true,offset:13.4,splitLine:{show:false},
   axisLine:{show:true,lineStyle:{color:'#999',width:1.5}},axisTick:{show:true,length:9,lineStyle:{color:'#999',width:1.5}},
   minorTick:{show:true,splitNumber:50,length:9,lineStyle:{color:'#aaa',width:1.5}},
   axisLabel:{rotate:90,margin:21,customValues:rulerLabelAt,fontFamily:SERIF,fontWeight:'bold',fontSize:30,color:'#111',formatter:v=>String(Math.round(v/50)*50)}},
  {type:'value',gridIndex:1,min:0,max:300,interval:50,inverse:true,show:false},
  {type:'value',gridIndex:2,min:0,max:300,interval:50,inverse:true,show:false},
  {type:'value',gridIndex:3,min:0,max:1,show:false},
  {type:'value',gridIndex:4,min:0,max:50,interval:10,splitLine:{show:false},
   axisLine:{show:true,lineStyle:{color:'#777',width:1.5}},axisTick:{show:true,length:7,lineStyle:{color:'#777',width:1.5}},
   axisLabel:{margin:20,fontFamily:SERIF,fontSize:30,color:'#333'}},
  {type:'value',gridIndex:5,min:0,max:50,interval:10,splitLine:{show:false},
   axisLine:{show:true,lineStyle:{color:'#777',width:1.5}},axisTick:{show:true,length:6,lineStyle:{color:'#777',width:1.5}},
   axisLabel:{margin:18,fontFamily:SERIF,fontWeight:'bold',fontSize:30,color:'#111'}}
 ],
 series,
 graphic:[
  {type:'rect',shape:{x:0,y:27,width:3763,height:19},style:{fill:'#000'},silent:true},
  txt(72,1090,'cM',SERIF,26,'bold',Math.PI/2),
  txt(1062,2067,'Density(cM/Locus)',SERIF,30,'bold'),
  txt(1990,577,'LOD',SERIF,27,'bold',Math.PI/2),
  txt(2037,1771,'LOD',SANS,22,'normal',Math.PI/2,'#222'),
  txt(2114,1097,'Figure 2 | QTL mapping and associate analysis of sex-related locus of yellow',SERIF,48,'bold',0,'#000','left'),
  txt(2114,1176,'catfish. Threshold for genome-wide significance is denoted with red line.',SERIF,48,'bold',0,'#000','left')
 ]
};
const chart=echarts.init(document.getElementById('c'),null,{renderer:'canvas',width:3763,height:2084});
chart.setOption(option);
</script></body></html>
